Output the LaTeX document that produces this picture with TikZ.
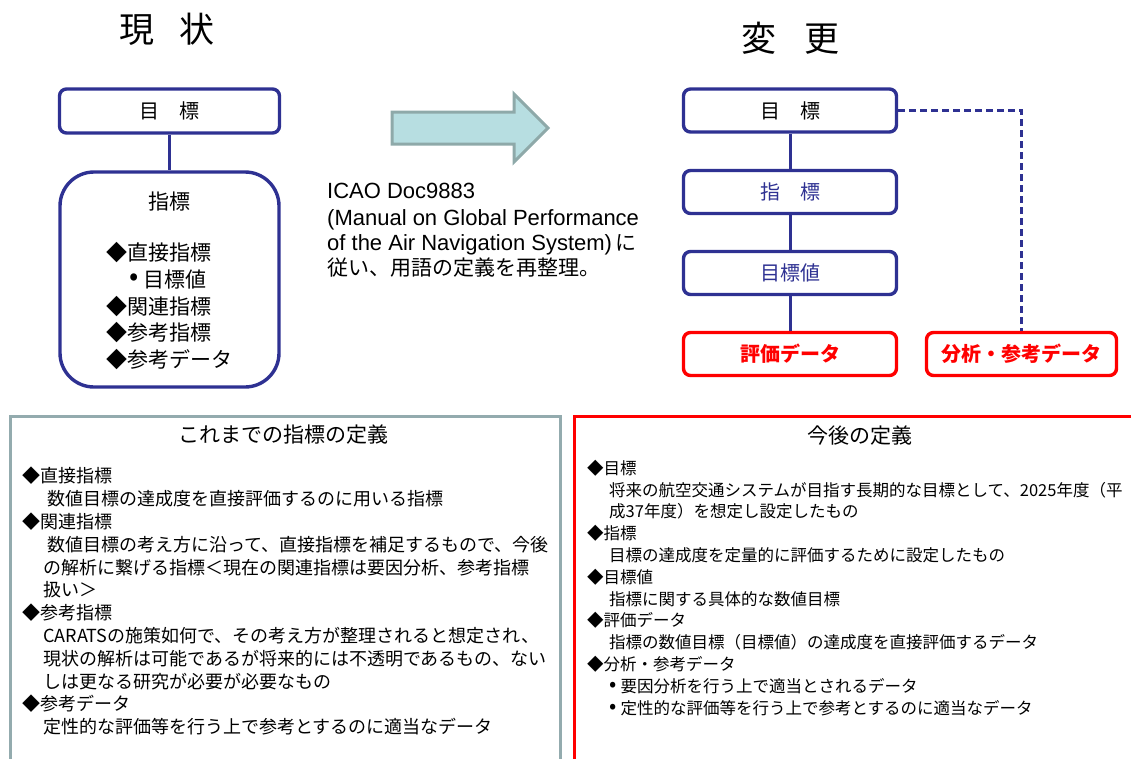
\documentclass[tikz,border=0pt]{standalone}
\usepackage{fontspec}
\setmainfont{Noto Sans CJK JP}
\newfontfamily\lat{Liberation Sans}
\newcommand\fsz[1]{\fontsize{#1}{#1}\selectfont}
\newcommand\bul{\raisebox{0.05em}{\scalebox{1.3}{•}}\hspace{0.25em}}
\definecolor{navy}{HTML}{2E3192}
\definecolor{redc}{HTML}{FF0000}
\definecolor{tealgray}{HTML}{93ABAE}
\definecolor{arrowfill}{HTML}{B7DEE1}
\definecolor{arrowline}{HTML}{8EA9A9}
\tikzset{
  navybox/.style={draw=navy, line width=3.4pt, rounded corners=7pt, minimum width=213pt, minimum height=43pt, inner sep=0pt, fill=white},
  redbox/.style={draw=redc, line width=3.4pt, rounded corners=7pt, minimum height=43pt, inner sep=0pt, fill=white, text=redc, font=\fsz{20}\bfseries},
  link/.style={draw=navy, line width=3pt},
  txt/.style={anchor=base west, inner sep=0pt},
}
\begin{document}
\begin{tikzpicture}[x=1pt, y=-1pt]
\useasboundingbox (0,0) rectangle (1131,758);
\clip (0,0) rectangle (1131,758);

% titles
\node[inner sep=0pt, font=\fsz{35}] (t1) at (167,29) {現\hspace{26pt}状};
\node[inner sep=0pt, font=\fsz{35}] (t2) at (790,38) {変\hspace{28pt}更};

% left side
\node[navybox, minimum width=220pt, minimum height=44pt, font=\fsz{20}] (lg) at (169.5,111) {目\hspace{20pt}標};
\node[draw=navy, line width=3.4pt, rounded corners=34pt, minimum width=219pt, minimum height=215pt, inner sep=0pt] (lb) at (169.5,279.5) {};
\draw[link] (lg.south) -- (lb.north);
\node[inner sep=0pt, font=\fsz{21}] (lbt) at (169,201.5) {指標};
\node[txt, font=\fsz{21}] (lb1) at (106,252+8) {◆直接指標};
\node[txt, font=\fsz{21}] (lb2) at (129,279+8) {\bul 目標値};
\node[txt, font=\fsz{21}] (lb3) at (106,306+8) {◆関連指標};
\node[txt, font=\fsz{21}] (lb4) at (106,332+8) {◆参考指標};
\node[txt, font=\fsz{21}] (lb5) at (106,359+8) {◆参考データ};

% arrow
\draw[fill=arrowfill, draw=arrowline, line width=3pt, line join=miter]
  (392,112) -- (514,112) -- (514,94) -- (548,128) -- (514,162) -- (514,144) -- (392,144) -- cycle;

% ICAO text
\node[txt, font=\lat\fsz{22}] (ic1) at (327,198) {ICAO Doc9883};
\node[txt, font=\lat\fsz{22}] (ic2) at (327,225) {(Manual on Global Performance};
\node[txt, font=\lat\fsz{22}] (ic3) at (327,250) {of the Air Navigation System)\,{\rmfamily\fsz{21}に}};
\node[txt, font=\fsz{21}] (ic4) at (327,275) {従い、用語の定義を再整理。};

% right side
\node[navybox, font=\fsz{20}] (r1) at (790,110.5) {目\hspace{20pt}標};
\node[navybox, font=\fsz{20}, text=navy] (r2) at (790,192) {指\hspace{20pt}標};
\node[navybox, font=\fsz{20}, text=navy] (r3) at (790,273) {目標値};
\node[redbox, minimum width=213pt] (r4) at (790,354) {評価データ};
\node[redbox, minimum width=190pt] (r5) at (1021.5,354) {分析・参考データ};
\draw[link] (r1.south) -- (r2.north);
\draw[link] (r2.south) -- (r3.north);
\draw[link] (r3.south) -- (r4.north);
\draw[draw=navy, line width=2.2pt, dash pattern=on 7pt off 4pt] (r1.east) -| (r5.north);

% bottom boxes
\node[draw=tealgray, line width=3pt, anchor=north west, minimum width=550pt, minimum height=380pt, inner sep=0pt] (bl) at (8.5,414.5) {};
\node[draw=redc, line width=3pt, anchor=north west, minimum width=600pt, minimum height=380pt, inner sep=0pt] (br) at (573,415) {};
\node[inner sep=0pt, font=\fsz{21}] (blt) at (283,435) {これまでの指標の定義};
\node[inner sep=0pt, font=\fsz{21}] (brt) at (860,436) {今後の定義};

\foreach \xx/\tt [count=\i] in {
  22/◆直接指標,
  47/数値目標の達成度を直接評価するのに用いる指標,
  22/◆関連指標,
  47/数値目標の考え方に沿って、直接指標を補足するもので、今後,
  43/の解析に繋げる指標＜現在の関連指標は要因分析、参考指標,
  43/扱い＞,
  22/◆参考指標,
  43/CARATSの施策如何で、その考え方が整理されると想定され、,
  43/現状の解析は可能であるが将来的には不透明であるもの、ない,
  43/しは更なる研究が必要が必要なもの,
  22/◆参考データ,
  43/定性的な評価等を行う上で参考とするのに適当なデータ}
{
  \node[txt, font=\fsz{18}] (bl\i) at (\xx, {476+22.8*(\i-1)+6.8}) {\tt};
}

\foreach \xx/\tt [count=\i] in {
  587/◆目標,
  609/将来の航空交通システムが目指す長期的な目標として、2025年度（平,
  609/成37年度）を想定し設定したもの,
  587/◆指標,
  609/目標の達成度を定量的に評価するために設定したもの,
  587/◆目標値,
  609/指標に関する具体的な数値目標,
  587/◆評価データ,
  609/指標の数値目標（目標値）の達成度を直接評価するデータ,
  587/◆分析・参考データ,
  609/\bul 要因分析を行う上で適当とされるデータ,
  609/\bul 定性的な評価等を行う上で参考とするのに適当なデータ}
{
  \node[txt, font=\fsz{16.5}] (br\i) at (\xx, {468+21.8*(\i-1)+6.3}) {\tt};
}
\end{tikzpicture}
\end{document}
